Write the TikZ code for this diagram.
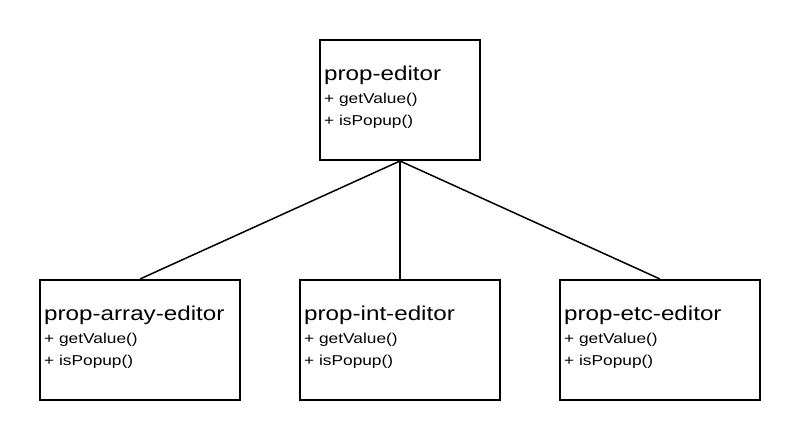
\documentclass[tikz,border=0pt]{standalone}
\usepackage{fontspec}
\setmainfont{Liberation Sans}[FakeStretch=1.21]

\begin{document}
\begin{tikzpicture}[%
  x=1pt, y=-1pt,
  class/.style = {draw, line width=2pt, minimum width=160pt, minimum height=120pt, inner sep=0pt},
  classname/.style = {anchor=base west, inner sep=0pt, font=\fontsize{20}{24}\selectfont},
  method/.style = {anchor=base west, inner sep=0pt, font=\fontsize{14.3}{17}\selectfont},
  line/.style = {line width=1.5pt},
]
  \useasboundingbox (0,0) rectangle (800,440);

  \node[class] (editor) at (400,100) {};
  \node[class, minimum width=200pt] (array) at (140,340) {};
  \node[class, minimum width=200pt] (int) at (400,340) {};
  \node[class, minimum width=200pt] (etc) at (660,340) {};

  \foreach \cls/\txt in {editor/prop-editor, array/prop-array-editor,
                         int/prop-int-editor, etc/prop-etc-editor} {
    \node[classname] (\cls-name) at ([xshift=5pt, yshift=-41pt]\cls.north west) {\txt};
    \node[method] (\cls-get) at ([xshift=5pt, yshift=-64.5pt]\cls.north west) {+ getValue()};
    \node[method] (\cls-popup) at ([xshift=5pt, yshift=-86.5pt]\cls.north west) {+ isPopup()};
  }

  \draw[line] (editor.south) -- (array.north);
  \draw[line] (editor.south) -- (int.north);
  \draw[line] (editor.south) -- (etc.north);

\end{tikzpicture}
\end{document}
